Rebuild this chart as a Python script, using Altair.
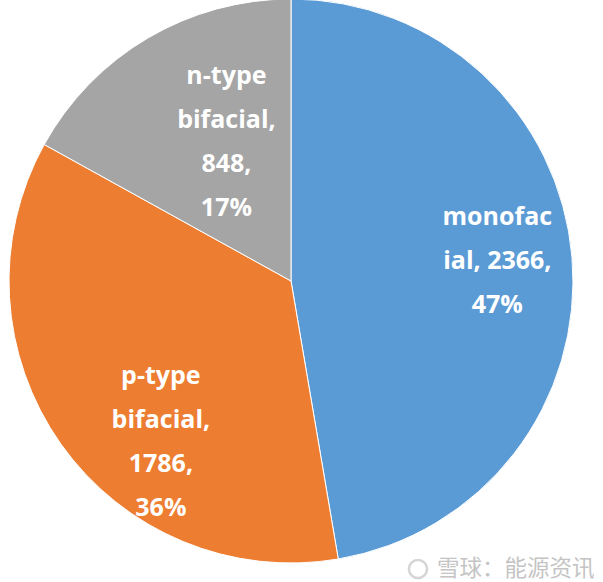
import altair as alt
import pandas as pd

# Module shipments by cell type
categories = ["monofacial", "p-type bifacial", "n-type bifacial"]
values = [2366, 1786, 848]
# Category names as they wrap inside the slice labels
name_wrapped = ["monofac\nial,", "p-type\nbifacial,", "n-type\nbifacial,"]
value_sep = [" ", "\n", "\n"]
colors = ["#5B9BD5", "#ED7D31", "#A5A5A5"]
watermark = "雪球：能源资讯"

total = sum(values)
labels = [
    f"{n}{s}{v},\n{round(100 * v / total)}%"
    for n, s, v in zip(name_wrapped, value_sep, values)
]

df = pd.DataFrame({
    "category": categories,
    "value": values,
    "label": labels,
    "order": list(range(len(categories))),
})

CX, CY, R = 291, 281, 282

arcs = alt.Chart(df).mark_arc(radius=R, stroke="white", strokeWidth=1).encode(
    theta=alt.Theta("value:Q", stack=True),
    color=alt.Color("category:N", scale=alt.Scale(domain=categories, range=colors), legend=None),
    order=alt.Order("order:Q"),
    x=alt.value(CX),
    y=alt.value(CY),
)

# label placement per slice: (radius, dx, dy); the anchor is the first line
label_place = [(200, 7, -47), (200, 33, -21), (200, 37, -33)]

label_layers = []
for i, (lr, ldx, ldy) in enumerate(label_place):
    layer = (
        alt.Chart(df)
        .transform_joinaggregate(total="sum(value)")
        .transform_window(cum="sum(value)", sort=[alt.SortField("order")])
        .transform_calculate(mid="(datum.cum - datum.value / 2) / datum.total * 2 * PI")
        .transform_filter(alt.datum.order == i)
        .mark_text(
            radius=lr, dx=ldx, dy=ldy,
            font="Open Sans", fontWeight="bold", fontSize=25, color="white",
            align="center", baseline="middle", lineBreak="\n", lineHeight=44,
        )
        .encode(
            theta=alt.Theta("mid:Q", scale=None, stack=False),
            text="label:N",
            x=alt.value(CX),
            y=alt.value(CY),
        )
    )
    label_layers.append(layer)

wm_df = pd.DataFrame({"t": [watermark]})
wm_logo = alt.Chart(wm_df).mark_point(
    shape="circle", size=330, filled=False, stroke="#c4c4c4", strokeWidth=2.5
).encode(x=alt.value(418), y=alt.value(569))
wm_text = alt.Chart(wm_df).mark_text(
    font="Noto Sans CJK SC", fontSize=22.5, color="#c4c4c4", align="left", baseline="middle"
).encode(x=alt.value(437), y=alt.value(569), text="t:N")

chart = (
    alt.layer(arcs, *label_layers, wm_logo, wm_text)
    .resolve_scale(theta="independent")
    .properties(width=603, height=582, autosize=alt.AutoSizeParams(type="none"), padding=0,
                background="white")
    .configure_view(stroke=None)
)

chart.save("out.html", embed_options={"renderer": "svg", "actions": False})
